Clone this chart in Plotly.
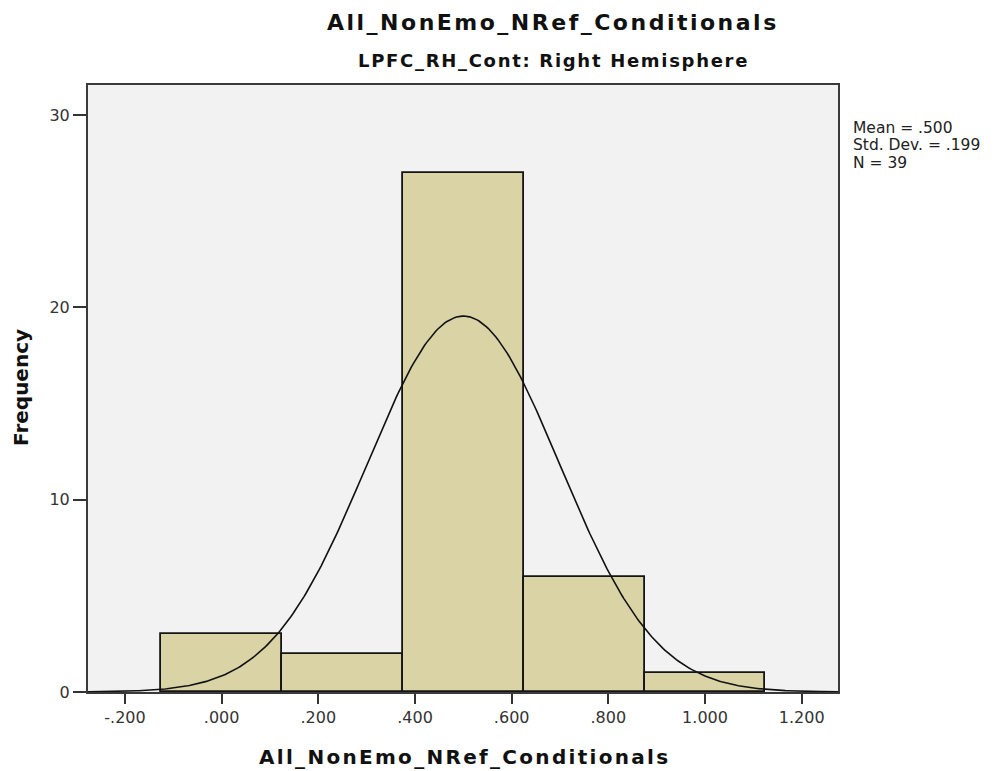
import numpy as np
import plotly.graph_objects as go

# Data
bin_centers = [0.0, 0.25, 0.5, 0.75, 1.0]
bin_counts = [3, 2, 27, 6, 1]
bin_width = 0.25
mean_val = 0.500
sd_val = 0.199
n_val = 39
x_tickvals = [-0.2, 0.0, 0.2, 0.4, 0.6, 0.8, 1.0, 1.2]
x_ticktext = ["-.200", ".000", ".200", ".400", ".600", ".800", "1.000", "1.200"]
y_tickvals = [0, 10, 20, 30]
title_text = "All_NonEmo_NRef_Conditionals"
subtitle_text = "LPFC_RH_Cont: Right Hemisphere"
xlabel_text = "All_NonEmo_NRef_Conditionals"
ylabel_text = "Frequency"
stats_lines = ["Mean = .500", "Std. Dev. = .199", "N = 39"]

FONT = "DejaVu Sans, Arial, sans-serif"

# Fitted normal curve (as drawn by SPSS from Mean, Std. Dev. and N)
xc = np.linspace(-0.2765, 1.2751, 400)
yc = n_val * bin_width / (sd_val * np.sqrt(2 * np.pi)) * np.exp(-0.5 * ((xc - mean_val) / sd_val) ** 2)

# page geometry (browser body margin 8px)
OFF = 8
W, H = 990, 763
ML, MR, MT, MB = 80, 160, 77, 79
PW, PH = W - ML - MR, H - MT - MB
LEFT, BOTTOM = ML + OFF, MT + OFF + PH


def px(xs):
    return (xs - LEFT) / PW


def py(ys):
    return (BOTTOM - ys) / PH


def sp(text, ls):
    return f'<span style="letter-spacing:{ls}px">{text}</span>'


fig = go.Figure()
fig.add_trace(go.Bar(
    x=bin_centers, y=bin_counts, width=bin_width,
    marker=dict(color="#D9D3A5", line=dict(color="#141414", width=1.8)),
    showlegend=False, hoverinfo="x+y",
))
fig.add_trace(go.Scatter(
    x=xc, y=yc, mode="lines", line=dict(color="#111111", width=1.6),
    showlegend=False, hoverinfo="skip",
))

axis_common = dict(
    ticks="outside", tickwidth=2, tickcolor="#333333",
    tickfont=dict(size=16, family=FONT, color="#333333"),
    showgrid=False, zeroline=False, automargin=False,
    showline=True, linecolor="#3a3a3a", linewidth=2, mirror=True,
)

fig.update_layout(
    width=W, height=H, autosize=False,
    margin=dict(l=ML, r=MR, t=MT, b=MB, pad=0),
    paper_bgcolor="white", plot_bgcolor="#F2F2F2",
    font=dict(family=FONT, color="#222222"),
    bargap=0,
    xaxis=dict(range=[-0.2765, 1.2751], tickvals=x_tickvals, ticktext=x_ticktext,
               ticklen=10, **axis_common),
    yaxis=dict(range=[0, 31.56], tickvals=y_tickvals, ticklen=13, **axis_common),
    annotations=[
        dict(text="<b>" + sp(title_text, 2.5) + "</b>", xref="paper", yref="paper",
             x=px(553), y=py(22), xanchor="center", yanchor="middle",
             showarrow=False, font=dict(size=22, family=FONT, color="#111111")),
        dict(text="<b>" + sp(subtitle_text, 1.7) + "</b>", xref="paper", yref="paper",
             x=px(553), y=py(60), xanchor="center", yanchor="middle",
             showarrow=False, font=dict(size=18, family=FONT, color="#111111")),
        dict(text="<b>" + sp(xlabel_text, 2.3) + "</b>", xref="paper", yref="paper",
             x=px(464), y=py(757), xanchor="center", yanchor="middle",
             showarrow=False, font=dict(size=20, family=FONT, color="#111111")),
        dict(text="<b>" + ylabel_text + "</b>", xref="paper", yref="paper", textangle=-90,
             x=px(21), y=py(388), xanchor="center", yanchor="middle",
             showarrow=False, font=dict(size=20, family=FONT, color="#111111")),
    ] + [
        dict(text=line, xref="paper", yref="paper",
             x=px(851), y=py(128 + 17.5 * i), xanchor="left", yanchor="middle",
             align="left", showarrow=False,
             font=dict(size=15.5, family=FONT, color="#222222"))
        for i, line in enumerate(stats_lines)
    ],
)

fig.write_html("out.html")
